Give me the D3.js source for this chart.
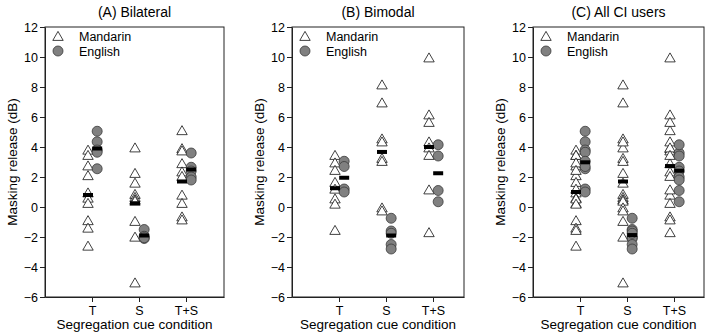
<!DOCTYPE html>
<html><head><meta charset="utf-8">
<script src="https://cdn.jsdelivr.net/npm/d3@7"></script>
<style>body{margin:0;background:#fff}svg{font-family:"Liberation Sans",Arial,sans-serif}</style>
</head><body><svg id="c" width="719" height="335"></svg>
<script>
const conditions = ["T", "S", "T+S"];
const yTicks = [-6, -4, -2, 0, 2, 4, 6, 8, 10, 12];
const panelTitles = ["(A) Bilateral", "(B) Bimodal", "(C) All CI users"];
const seriesNames = ["Mandarin", "English"];

// Panel A – Bilateral
const aMandarinT  = [3.75, 3.4, 2.7, 2.05, 0.9, 0.55, 0.2, -0.95, -1.45, -2.65];
const aMandarinS  = [3.9, 2.2, 1.55, 0.8, 0.6, 0.45, 0.35, -1.0, -2.05, -5.1];
const aMandarinTS = [5.05, 3.85, 3.7, 2.85, 2.3, 2.0, 0.75, 0.2, -0.7, -0.9];
const aEnglishT   = [5.05, 4.35, 3.8, 3.65, 2.55];
const aEnglishS   = [-1.5, -1.95, -2.1, -2.05];
const aEnglishTS  = [3.6, 2.65, 2.4, 2.0, 1.8];
const aMandarinMean = [0.8, 0.25, 1.7];
const aEnglishMean  = [3.9, -1.9, 2.5];

// Panel B – Bimodal
const bMandarinT  = [3.4, 2.9, 2.4, 1.6, 1.15, 0.5, 0.15, -1.6];
const bMandarinS  = [8.1, 6.9, 4.5, 4.3, 3.2, 3.0, -0.1, -0.3];
const bMandarinTS = [9.9, 6.1, 5.6, 4.3, 3.9, 3.4, 1.1, -1.75];
const bEnglishT   = [3.05, 2.7, 1.2, 1.0];
const bEnglishS   = [-0.75, -1.6, -1.75, -2.5, -2.8];
const bEnglishTS  = [4.15, 3.4, 1.1, 0.35];
const bMandarinMean = [1.25, 3.67, 4.0];
const bEnglishMean  = [1.95, -1.9, 2.25];

// Panel C – All CI users
const cMandarinT  = [3.75, 3.4, 2.7, 2.05, 0.9, 0.55, 0.2, -0.95, -1.45, -2.65, 3.4, 2.9, 2.4, 1.6, 1.15, 0.5, 0.15, -1.6];
const cMandarinS  = [3.9, 2.2, 1.55, 0.8, 0.6, 0.45, 0.35, -1.0, -2.05, -5.1, 8.1, 6.9, 4.5, 4.3, 3.2, 3.0, -0.1, -0.3];
const cMandarinTS = [5.05, 3.85, 3.7, 2.85, 2.3, 2.0, 0.75, 0.2, -0.7, -0.9, 9.9, 6.1, 5.6, 4.3, 3.9, 3.4, 1.1, -1.75];
const cEnglishT   = [5.05, 4.35, 3.8, 3.65, 2.55, 3.05, 2.7, 1.2, 1.0];
const cEnglishS   = [-1.5, -1.95, -2.1, -2.05, -0.75, -1.6, -1.75, -2.5, -2.8];
const cEnglishTS  = [3.6, 2.65, 2.4, 2.0, 1.8, 4.15, 3.4, 1.1, 0.35];
const cMandarinMean = [1.0, 1.7, 2.73];
const cEnglishMean  = [2.98, -1.87, 2.42];

const panels = [
  {title: panelTitles[0], left: 45, right: 224, ylab: 12,
   m: [aMandarinT, aMandarinS, aMandarinTS], e: [aEnglishT, aEnglishS, aEnglishTS], mm: aMandarinMean, em: aEnglishMean},
  {title: panelTitles[1], left: 292, right: 464, ylab: 259,
   m: [bMandarinT, bMandarinS, bMandarinTS], e: [bEnglishT, bEnglishS, bEnglishTS], mm: bMandarinMean, em: bEnglishMean},
  {title: panelTitles[2], left: 533, right: 704, ylab: 500,
   m: [cMandarinT, cMandarinS, cMandarinTS], e: [cEnglishT, cEnglishS, cEnglishTS], mm: cMandarinMean, em: cEnglishMean}
];

const svg = d3.select("#c");
const plotTop = 27, plotBottom = 297;
const y = d3.scaleLinear().domain([-6, 12]).range([plotBottom, plotTop]);
const triPath = "M0,-5.6L5.2,3.4L-5.2,3.4Z";
const offM = -0.085, offE = 0.11;

panels.forEach(p => {
  const w = p.right - p.left;
  const x = d3.scaleLinear().domain([0, w / 47]).range([p.left, p.right]);
  const g = svg.append("g");

  g.append("rect").attr("x", p.left).attr("y", plotTop).attr("width", w).attr("height", plotBottom - plotTop)
    .attr("fill", "none").attr("stroke", "#222").attr("stroke-width", 1);

  const ya = g.append("g").attr("transform", `translate(${p.left},0)`)
    .call(d3.axisLeft(y).tickValues(yTicks).tickSize(5).tickSizeOuter(0).tickFormat(d3.format("d")));
  const xa = g.append("g").attr("transform", `translate(0,${plotBottom})`)
    .call(d3.axisBottom(x).tickValues([1, 2, 3]).tickSize(5).tickSizeOuter(0).tickFormat((d, i) => conditions[i]));
  [ya, xa].forEach(a => {
    a.select(".domain").attr("stroke", "#222");
    a.selectAll(".tick line").attr("stroke", "#222");
    a.selectAll("text").attr("fill", "#000").style("font-size", "12.5px").style("font-family", "'Liberation Sans',Arial,sans-serif");
  });
  ya.selectAll("text").attr("x", -7);
  xa.selectAll("text").attr("y", 9);

  const cx = (p.left + p.right) / 2;
  g.append("text").attr("x", cx).attr("y", 17).attr("text-anchor", "middle")
    .style("font-size", "14px").text(p.title);
  g.append("text").attr("x", cx).attr("y", 329).attr("text-anchor", "middle")
    .style("font-size", "13.5px").text("Segregation cue condition");
  g.append("text").attr("transform", `translate(${p.ylab},${(plotTop + plotBottom) / 2}) rotate(-90)`)
    .attr("text-anchor", "middle").attr("dy", "0.35em").style("font-size", "13.5px").text("Masking release (dB)");

  p.m.forEach((vals, ci) => {
    g.selectAll(null).data(vals).enter().append("path")
      .attr("d", triPath)
      .attr("transform", d => `translate(${x(ci + 1 + offM)},${y(d)})`)
      .attr("fill", "#fff").attr("stroke", "#111").attr("stroke-width", 0.8);
  });
  p.e.forEach((vals, ci) => {
    g.selectAll(null).data(vals).enter().append("circle")
      .attr("cx", x(ci + 1 + offE)).attr("cy", d => y(d)).attr("r", 5)
      .attr("fill", "#808080").attr("stroke", "#3a3a3a").attr("stroke-width", 0.8);
  });
  [[p.mm, offM], [p.em, offE]].forEach(([means, off]) => {
    g.selectAll(null).data(means).enter().append("rect")
      .attr("x", (d, i) => x(i + 1 + off) - 5).attr("y", d => y(d) - 2)
      .attr("width", 10).attr("height", 4).attr("fill", "#000");
  });

  const lx = p.left + 13;
  g.append("path").attr("d", triPath).attr("transform", `translate(${lx},${37})`)
    .attr("fill", "#fff").attr("stroke", "#111").attr("stroke-width", 0.8);
  g.append("circle").attr("cx", lx).attr("cy", 51).attr("r", 5)
    .attr("fill", "#808080").attr("stroke", "#3a3a3a").attr("stroke-width", 0.8);
  g.append("text").attr("x", lx + 21).attr("y", 41).style("font-size", "12.5px").text(seriesNames[0]);
  g.append("text").attr("x", lx + 21).attr("y", 56).style("font-size", "12.5px").text(seriesNames[1]);
});
</script></body></html>
